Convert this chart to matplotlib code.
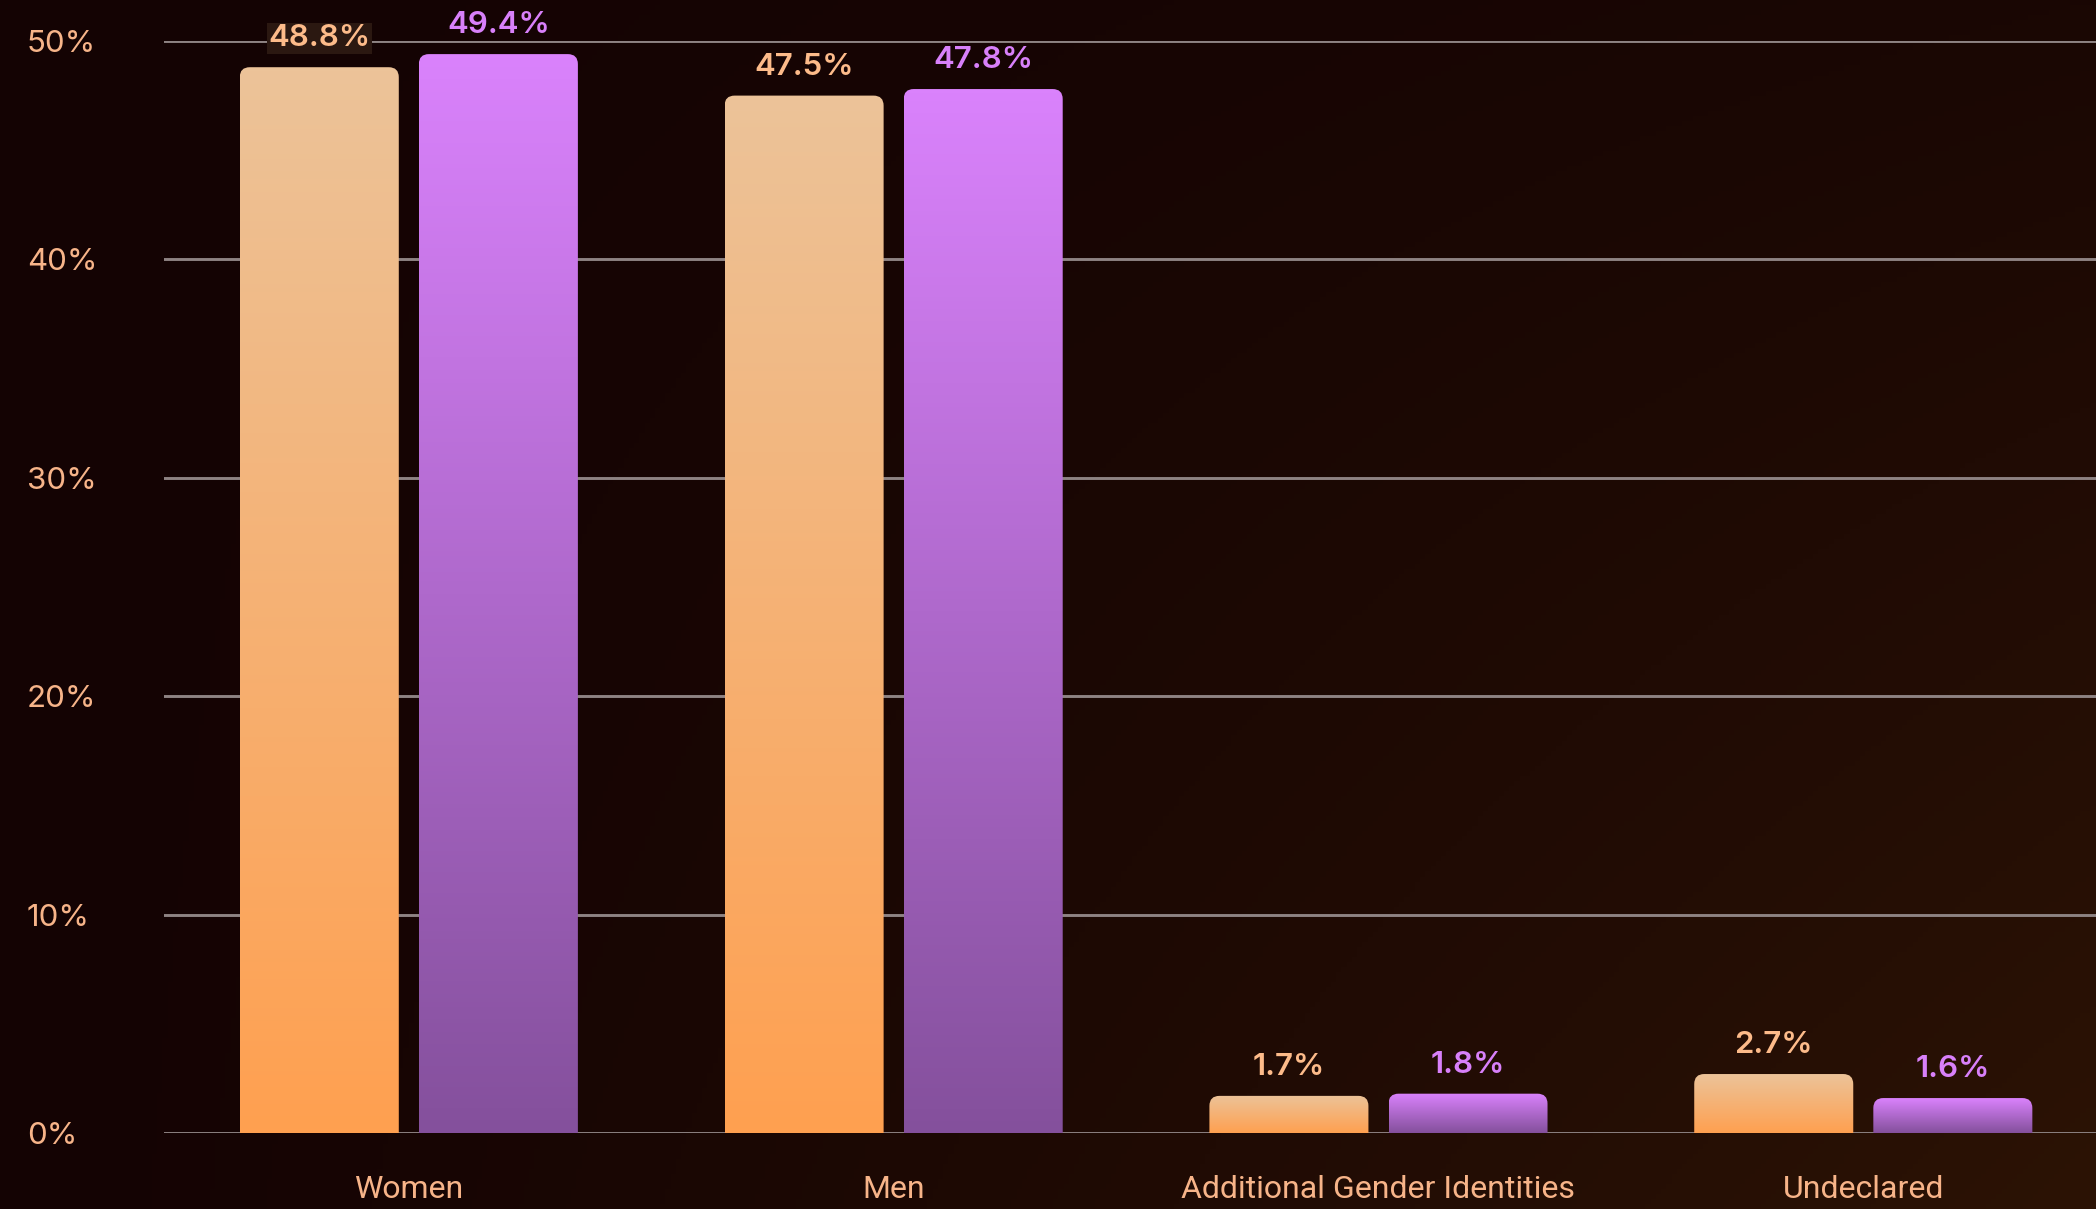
import numpy as np
import matplotlib
matplotlib.use("Agg")
import matplotlib.pyplot as plt
from matplotlib.patches import FancyBboxPatch
from matplotlib.colors import to_rgb

plt.rcParams['font.family'] = ['Roboto', 'DejaVu Sans']

# Data
categories = ["Women", "Men", "Additional Gender Identities", "Undeclared"]
series_a = [48.8, 47.5, 1.7, 2.7]   # orange
series_b = [49.4, 47.8, 1.8, 1.6]   # purple
y_ticks = [0, 10, 20, 30, 40, 50]

# Styles
orange_top, orange_bot = "#ecc399", "#ffa050"
purple_top, purple_bot = "#da82fc", "#84509c"
orange_txt, purple_txt = "#fdbb8a", "#d880fa"
tick_color = "#f7b489"
grid_color = "#8e8383"
bg0, bg1 = "#140303", "#2c1305"
num_font = ['Inter', 'DejaVu Sans']

W, H, DPI = 2096, 1209, 100
fig = plt.figure(figsize=(W / DPI, H / DPI), dpi=DPI)

# Background gradient
bg_ax = fig.add_axes([0, 0, 1, 1], zorder=-10)
gx, gy = np.meshgrid(np.linspace(0, 1, 400), np.linspace(0, 1, 240))
t = np.clip(gx ** 1.2 * (0.25 + 0.75 * gy), 0, 1)
c0, c1 = np.array(to_rgb(bg0)), np.array(to_rgb(bg1))
bg = c0[None, None, :] * (1 - t[..., None]) + c1[None, None, :] * t[..., None]
bg_ax.imshow(bg, aspect="auto", extent=[0, 1, 0, 1], origin="upper")
bg_ax.axis("off")

# Main axes
left, bottom = 164 / W, 76 / H
ax = fig.add_axes([left, bottom, 1 - left, (1133 - 41) / H])
ax.set_facecolor("none")
ax.set_xlim(-0.505, 3.48)
ax.set_ylim(0, 50)

x = np.arange(len(categories))
bw = 0.328
off = 0.1847
bars_a = ax.bar(x - off, series_a, bw, color="none", zorder=3)
bars_b = ax.bar(x + off, series_b, bw, color="none", zorder=3)

# pixel scales for rounded corners
px_x = ax.get_position().width * W / (ax.get_xlim()[1] - ax.get_xlim()[0])
px_y = ax.get_position().height * H / (ax.get_ylim()[1] - ax.get_ylim()[0])
r_px = 10
rx, ry = r_px / px_x, r_px / px_y


def gradient_bar(rect, top, bot):
    x0, w, h = rect.get_x(), rect.get_width(), rect.get_height()
    ct, cb = np.array(to_rgb(top)), np.array(to_rgb(bot))
    s = np.linspace(0, 1, 256)[:, None, None]
    img = cb * (1 - s) + ct * s
    im = ax.imshow(img, extent=[x0, x0 + w, 0, h], origin="lower",
                   aspect="auto", zorder=3)
    clip = FancyBboxPatch((x0, -ry), w, h + ry,
                          boxstyle=f"round,pad=0,rounding_size={rx}",
                          mutation_aspect=ry / rx, transform=ax.transData)
    im.set_clip_path(clip)


for bars, vals, top, bot, tc in [(bars_a, series_a, orange_top, orange_bot, orange_txt),
                                 (bars_b, series_b, purple_top, purple_bot, purple_txt)]:
    for rect, v in zip(bars, vals):
        gradient_bar(rect, top, bot)
        # label crosses a gridline? then it sits on a small box
        lo, hi = v + 21 / px_y, v + 45 / px_y
        crosses = any(lo < yt < hi for yt in y_ticks)
        ax.annotate(f"{v}%", (rect.get_x() + rect.get_width() / 2, v),
                    xytext=(0, 15), textcoords="offset points",
                    ha="center", va="baseline", fontsize=22.5, fontweight="semibold",
                    family=num_font, color=tc, zorder=5, annotation_clip=False,
                    bbox=dict(boxstyle="square,pad=0.05", fc="#2b1811", ec="none") if crosses else None)

ax.set_axisbelow(True)
ax.set_yticks(y_ticks)
ax.set_yticklabels([f"{v}%" for v in y_ticks], family=num_font)
ax.grid(axis="y", color=grid_color, lw=2.1, zorder=0)
ax.set_xticks(x)
ax.set_xticklabels(categories)
for s in ax.spines.values():
    s.set_visible(False)
ax.tick_params(axis="y", length=0, pad=98.6, labelsize=22.5, labelcolor=tick_color)
ax.tick_params(axis="x", length=0, pad=30, labelsize=23, labelcolor=tick_color)
for lab in ax.get_yticklabels():
    lab.set_horizontalalignment("left")

fig.savefig("out.png", dpi=DPI)
